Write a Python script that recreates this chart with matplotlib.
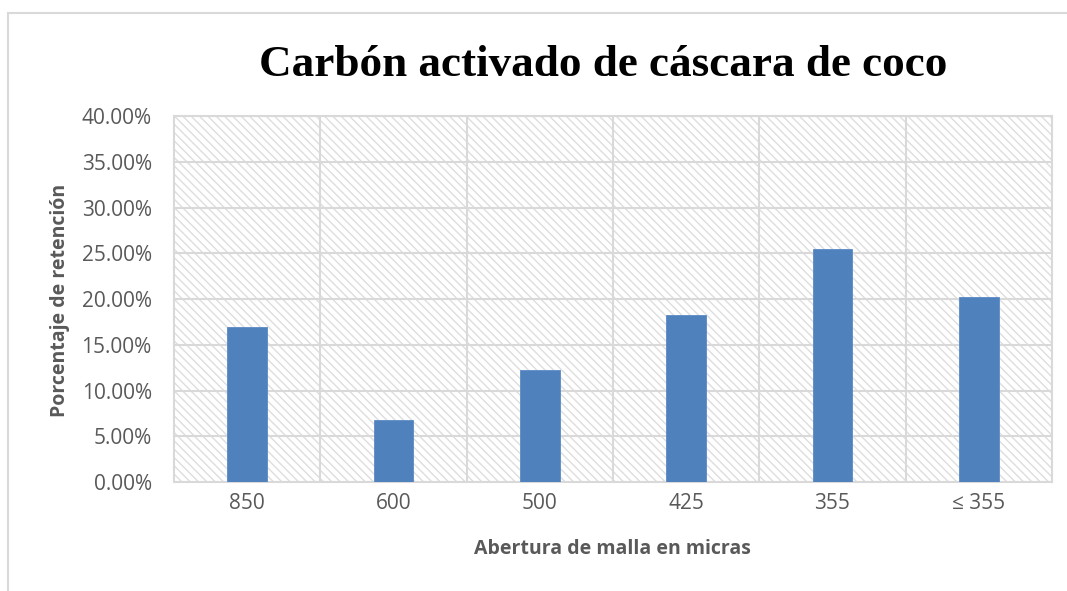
import matplotlib
matplotlib.use("Agg")
import matplotlib.pyplot as plt
from matplotlib.patches import Rectangle
from matplotlib.lines import Line2D
from matplotlib.ticker import PercentFormatter

# tamaño de malla (micras) y porcentaje retenido
mallas = ["850", "600", "500", "425", "355", "\u2264 355"]
retencion = [0.1695, 0.0680, 0.1225, 0.1830, 0.2550, 0.2020]

titulo = "Carbón activado de cáscara de coco"
xlab = "Abertura de malla en micras"
ylab = "Porcentaje de retención"

gris = "#595959"
linea = "#d9d9d9"
azul = "#4f81bd"

plt.rcParams["font.family"] = ["Open Sans", "DejaVu Sans"]
plt.rcParams["hatch.linewidth"] = 1.0

fig = plt.figure(figsize=(10.67, 5.91), dpi=100)
ax = fig.add_axes([0.1631, 0.1844, 0.8228, 0.6193])

# fondo rayado del area de trazado
fondo = Rectangle((0, 0), 1, 1, transform=ax.transAxes, facecolor="white",
                  edgecolor="#dedede", hatch="\\\\\\\\", lw=0, zorder=0)
ax.add_patch(fondo)

pos = list(range(len(mallas)))
ax.bar(pos, retencion, width=0.27, color=azul, edgecolor="#5a8ac6", lw=0.6, zorder=3)

ax.set_xlim(-0.5, len(mallas) - 0.5)
ax.set_ylim(0, 0.40)
ax.set_yticks([i * 0.05 for i in range(9)])
ax.yaxis.set_major_formatter(PercentFormatter(1.0, decimals=2))
ax.set_xticks(pos)
ax.set_xticklabels(mallas)
ax.set_xticks([p + 0.5 for p in pos[:-1]], minor=True)

ax.grid(axis="y", which="major", color=linea, lw=1.5, zorder=1)
ax.grid(axis="x", which="minor", color=linea, lw=1.5, zorder=1)
ax.tick_params(which="both", length=0, labelsize=15, colors=gris)
ax.tick_params(axis="y", pad=16)
ax.tick_params(axis="x", pad=8)
for s in ax.spines.values():
    s.set_color(linea)
    s.set_linewidth(1.5)

fig.text(0.565, 0.89, titulo, ha="center", va="center", fontsize=32.5,
         fontweight="bold", family="Liberation Serif", color="black")
fig.text(0.574, 0.071, xlab, ha="center", va="center", fontsize=14,
         fontweight="bold", color=gris)
fig.text(0.056, 0.492, ylab, ha="center", va="center", fontsize=14,
         fontweight="bold", color=gris, rotation=90)

# borde del grafico
fig.add_artist(Line2D([0.0075, 1.0], [0.978, 0.978], color=linea, lw=1.5))
fig.add_artist(Line2D([0.0075, 0.0075], [0.0, 0.978], color=linea, lw=1.5))

fig.savefig("out.png", dpi=100)
